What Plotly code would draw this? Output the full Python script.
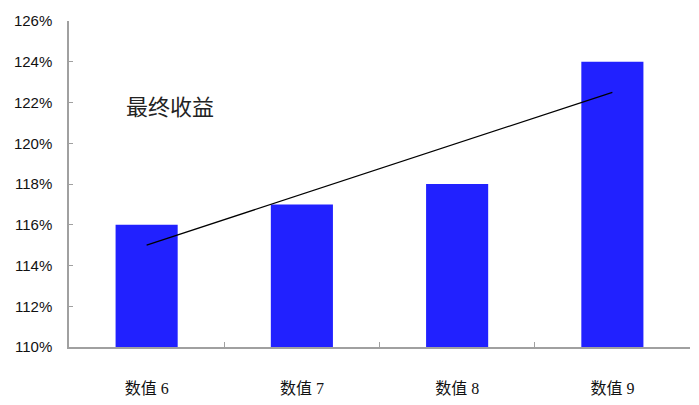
import plotly.graph_objects as go

categories = ["数值 6", "数值 7", "数值 8", "数值 9"]
values = [116, 117, 118, 124]
trend_values = [115, 117.5, 120, 122.5]
y_ticks = [110, 112, 114, 116, 118, 120, 122, 124, 126]
y_tick_labels = [f"{v}%" for v in y_ticks]

fig = go.Figure()
fig.add_trace(go.Bar(x=categories, y=values, marker=dict(color="#2121FF", line=dict(width=0)),
                     width=0.4, showlegend=False))
fig.add_trace(go.Scatter(x=categories, y=trend_values, mode="lines",
                         line=dict(color="black", width=1.2), showlegend=False))

fig.add_annotation(text="最终收益", xref="paper", yref="paper", x=0.088, y=0.742,
                   xanchor="left", yanchor="middle", showarrow=False,
                   font=dict(family="Noto Sans CJK SC", size=22, color="#222"))

# the page body adds an 8px offset, so the figure is sized to fit the 699x405 window
fig.update_layout(
    width=691, height=397,
    margin=dict(l=61, r=9, t=13, b=58),
    plot_bgcolor="white", paper_bgcolor="white",
    bargap=0.6,
)
fig.update_xaxes(
    automargin=False,
    showline=True, linecolor="#a0a0a0", linewidth=1.5,
    ticks="inside", tickson="boundaries", ticklen=5, tickcolor="#a0a0a0",
    showgrid=False, ticklabelstandoff=26,
    tickfont=dict(family="Liberation Serif, Noto Sans CJK SC", size=16, color="#111"),
)
fig.update_yaxes(
    automargin=False,
    range=[110, 126], tickvals=y_ticks, ticktext=y_tick_labels,
    showline=True, linecolor="#a0a0a0", linewidth=1.5,
    ticks="inside", ticklen=4, tickcolor="#a0a0a0", showgrid=False, zeroline=False,
    tickfont=dict(family="Liberation Sans, Arial", size=15, color="#111"),
    ticklabelstandoff=12,
)

fig.write_html("out.html")
